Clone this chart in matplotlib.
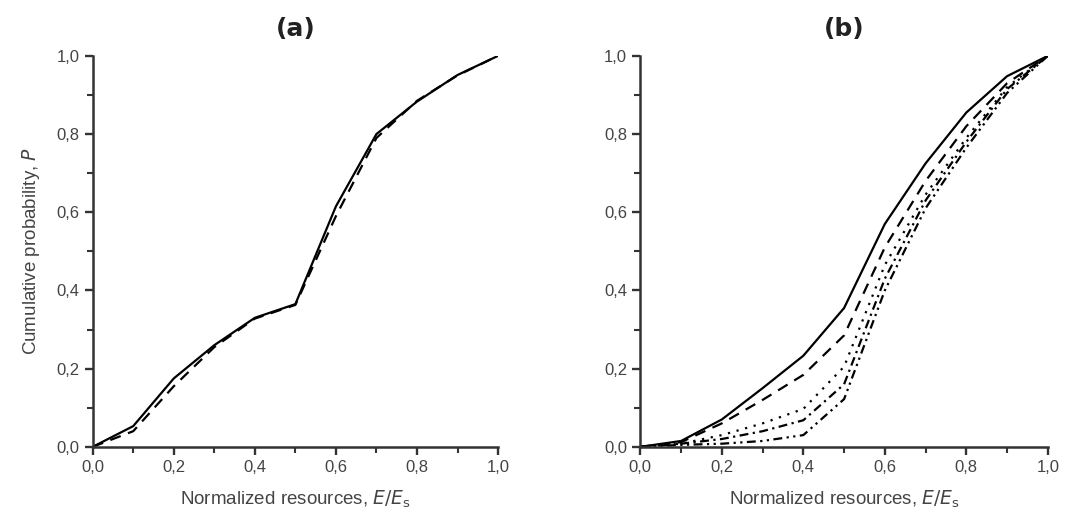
import matplotlib
matplotlib.use('Agg')
import matplotlib.pyplot as plt
from matplotlib.ticker import MultipleLocator, FuncFormatter

plt.rcParams['font.family'] = ['Liberation Sans', 'DejaVu Sans']

x = [0.0, 0.1, 0.2, 0.3, 0.4, 0.5, 0.6, 0.7, 0.8, 0.9, 1.0]

# panel (a)
a_solid = [0, 0.053, 0.175, 0.26, 0.33, 0.365, 0.615, 0.80, 0.883, 0.951, 1.0]
a_dash = [0, 0.040, 0.155, 0.255, 0.328, 0.363, 0.590, 0.79, 0.885, 0.950, 1.0]

# panel (b)
b_solid = [0, 0.015, 0.070, 0.150, 0.233, 0.355, 0.570, 0.725, 0.855, 0.948, 1.0]
b_dash = [0, 0.012, 0.060, 0.120, 0.184, 0.285, 0.510, 0.680, 0.820, 0.930, 1.0]
b_dot = [0, 0.008, 0.030, 0.060, 0.097, 0.205, 0.465, 0.645, 0.790, 0.920, 1.0]
b_dashdot = [0, 0.008, 0.020, 0.040, 0.068, 0.160, 0.430, 0.630, 0.780, 0.915, 1.0]
b_dashdotdot = [0, 0.005, 0.008, 0.015, 0.030, 0.122, 0.400, 0.610, 0.765, 0.905, 1.0]

comma = FuncFormatter(lambda v, p: ('%.1f' % v).replace('.', ','))


def style(ax, title):
    ax.set_xlim(0, 1)
    ax.set_ylim(0, 1)
    ax.spines['top'].set_visible(False)
    ax.spines['right'].set_visible(False)
    for s in ['left', 'bottom']:
        ax.spines[s].set_linewidth(1.8)
        ax.spines[s].set_color('#333333')
    ax.xaxis.set_major_locator(MultipleLocator(0.2))
    ax.xaxis.set_minor_locator(MultipleLocator(0.1))
    ax.yaxis.set_major_locator(MultipleLocator(0.2))
    ax.yaxis.set_minor_locator(MultipleLocator(0.1))
    ax.xaxis.set_major_formatter(comma)
    ax.yaxis.set_major_formatter(comma)
    ax.tick_params(which='major', direction='out', length=6, width=1.7,
                   labelsize=12, colors='#333333', labelcolor='#444444')
    ax.tick_params(which='minor', direction='out', length=4, width=1.5,
                   colors='#333333')
    ax.set_xlabel('Normalized resources, $\\mathit{E/E}_\\mathrm{s}$',
                  fontsize=13.5, color='#444444', labelpad=10)
    ax.set_title(title, fontsize=18, fontweight='bold', family='DejaVu Sans',
                 color='#222222', pad=14)


fig = plt.figure(figsize=(10.78, 5.22), dpi=100)
ax1 = fig.add_axes([0.086, 0.144, 0.376, 0.749])
ax2 = fig.add_axes([0.594, 0.144, 0.378, 0.749])

ax1.plot(x, a_solid, color='black', linestyle='-', linewidth=1.6)
ax1.plot(x, a_dash, color='black', linestyle=(0, (5, 3.5)), linewidth=1.6)
style(ax1, '(a)')
ax1.set_ylabel('Cumulative probability, $\\mathit{P}$', fontsize=13.5,
               color='#444444', labelpad=10)

ax2.plot(x, b_solid, color='black', linestyle='-', linewidth=1.6)
ax2.plot(x, b_dash, color='black', linestyle=(0, (5, 3.5)), linewidth=1.6)
ax2.plot(x, b_dot, color='black', linestyle=(0, (1, 3)), linewidth=1.6)
ax2.plot(x, b_dashdot, color='black', linestyle=(0, (4, 2, 1, 2)), linewidth=1.6)
ax2.plot(x, b_dashdotdot, color='black', linestyle=(0, (4, 2, 1, 2, 1, 2)),
         linewidth=1.6)
style(ax2, '(b)')

fig.savefig('out.png', dpi=100)
